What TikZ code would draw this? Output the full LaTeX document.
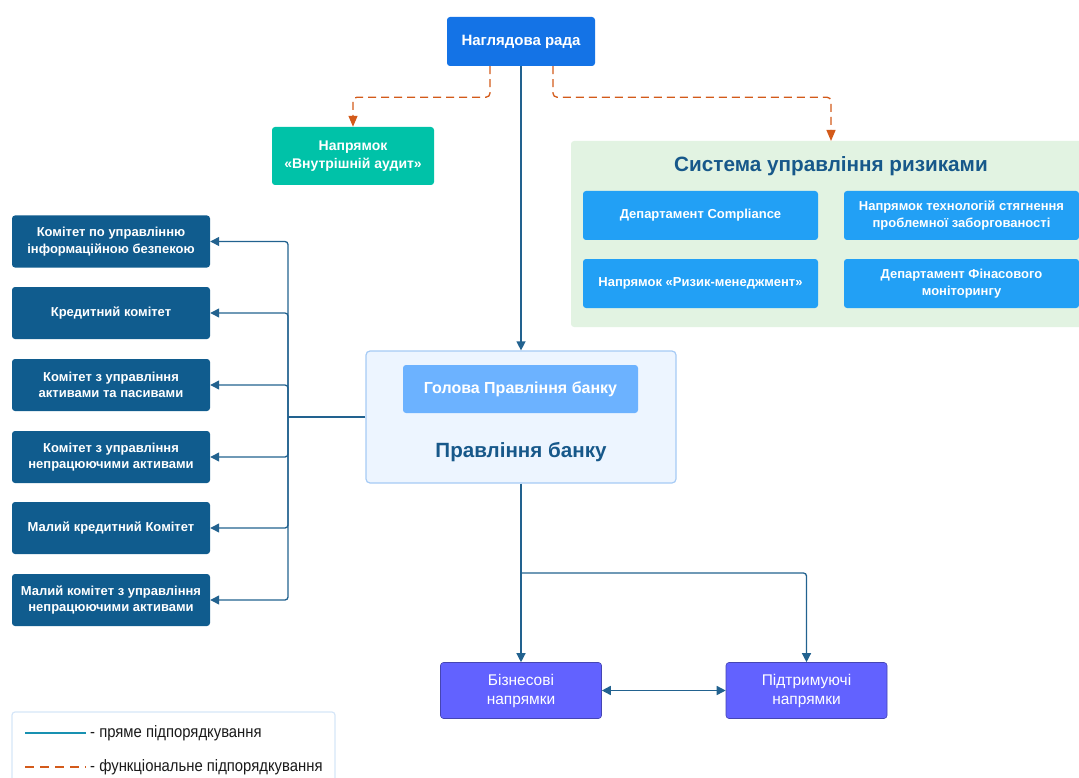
\documentclass[tikz,border=0pt]{standalone}
\usepackage{fontspec}
\setmainfont{Liberation Sans}
\usetikzlibrary{arrows.meta}
\definecolor{nagc}{HTML}{1473E6}
\definecolor{auditc}{HTML}{00C2A8}
\definecolor{riskbg}{HTML}{E2F3E2}
\definecolor{riskbox}{HTML}{22A0F5}
\definecolor{titlec}{HTML}{17588A}
\definecolor{pravbg}{HTML}{EDF5FF}
\definecolor{pravbd}{HTML}{A6CBF5}
\definecolor{golc}{HTML}{6CB2FF}
\definecolor{komc}{HTML}{105C8E}
\definecolor{dirc}{HTML}{6262FF}
\definecolor{linec}{HTML}{22628F}
\definecolor{orc}{HTML}{D35A1A}
\definecolor{legbd}{HTML}{D6E6F8}
\begin{document}
\begin{tikzpicture}[x=1pt,y=-1pt,
  box/.style={rectangle,rounded corners=3pt,text=white,font=\bfseries\fontsize{13}{16.5}\selectfont,align=center,inner sep=0pt},
  kom/.style={box,fill=komc,minimum width=198pt,minimum height=52pt},
  rbox/.style={box,fill=riskbox,minimum width=235pt,minimum height=49pt},
  dir/.style={box,fill=dirc,draw=dirc!70!black,line width=0.6pt,minimum width=161pt,minimum height=56pt,font=\fontsize{15.5}{19}\selectfont},
  solidarr/.style={draw=linec,line width=1.3pt,rounded corners=3pt,-{Triangle[width=9pt,length=9pt]}},
  dasharr/.style={draw=orc,line width=1.3pt,dash pattern=on 8pt off 5pt,rounded corners=4pt,-{Triangle[width=9pt,length=11pt]}}
]
\useasboundingbox (0,0) rectangle (1079,778);
% risk system background
\fill[riskbg,rounded corners=3pt] (571,141) rectangle (1095,327);
\node[font=\bfseries\fontsize{20.7}{24}\selectfont,text=titlec] (risktitle) at (831,166) {Система управління ризиками};
\coordinate (riskin) at (831,141);
\node[rbox] (r1) at (700.5,215.5) {Департамент Compliance};
\node[rbox] (r2) at (961.5,215.5) {Напрямок технологій стягнення\\проблемної заборгованості};
\node[rbox] (r3) at (700.5,283.5) {Напрямок «Ризик-менеджмент»};
\node[rbox] (r4) at (961.5,283.5) {Департамент Фінасового\\моніторингу};
% top
\node[box,fill=nagc,minimum width=148pt,minimum height=49pt,font=\bfseries\fontsize{15}{18}\selectfont] (nag) at (521,41.5) {Наглядова рада};
\node[box,fill=auditc,minimum width=162pt,minimum height=58pt,font=\bfseries\fontsize{14}{18}\selectfont] (audit) at (353,156) {Напрямок\\«Внутрішній аудит»};
% pravlinnya
\node[rectangle,rounded corners=4pt,fill=pravbg,draw=pravbd,line width=1.2pt,minimum width=310pt,minimum height=132pt] (prav) at (521,417) {};
\node[box,fill=golc,minimum width=235pt,minimum height=48pt,font=\bfseries\fontsize{16}{19}\selectfont] (gol) at (520.5,389) {Голова Правління банку};
\node[font=\bfseries\fontsize{20.6}{24}\selectfont,text=titlec] (pravt) at (521,452) {Правління банку};
% committees
\node[kom] (k1) at (111,241.5) {Комітет по управлінню\\інформаційною безпекою};
\node[kom] (k2) at (111,313) {Кредитний комітет};
\node[kom] (k3) at (111,385) {Комітет з управління\\активами та пасивами};
\node[kom] (k4) at (111,457) {Комітет з управління\\непрацюючими активами};
\node[kom] (k5) at (111,528) {Малий кредитний Комітет};
\node[kom] (k6) at (111,600) {Малий комітет з управління\\непрацюючими активами};
% directions
\node[dir] (biz) at (521,690.5) {Бізнесові\\напрямки};
\node[dir] (pid) at (806.5,690.5) {Підтримуючі\\напрямки};
% connectors
\draw[solidarr] (nag.south) -- (prav.north);
\draw[dasharr] ([xshift=-31pt]nag.south) -- ++(0,31) -| (audit.north);
\draw[dasharr] ([xshift=32pt]nag.south) -- ++(0,31) -| (riskin);
\coordinate (bus) at (288,417);
\draw[draw=linec,line width=1.3pt] (prav.west) -- (bus);
\foreach \k in {k1,k2,k3,k4,k5,k6}{
  \draw[solidarr] (bus) |- (\k.east);
}
\coordinate (bus2) at (521,573);
\draw[solidarr] (prav.south) -- (biz.north);
\draw[solidarr] (bus2) -| (pid.north);
\draw[draw=linec,line width=1.6pt,{Triangle[width=9pt,length=9pt]}-{Triangle[width=9pt,length=9pt]}] (biz.east) -- (pid.west);
% legend
\draw[legbd,line width=1.2pt,rounded corners=3pt] (12,712) rectangle (335,790);
\coordinate (l1a) at (25,733);
\coordinate (l1b) at (86,733);
\coordinate (l2a) at (25,767);
\coordinate (l2b) at (86,767);
\draw[draw=linec!70!cyan,line width=1.3pt] (l1a) -- (l1b);
\draw[draw=orc,line width=1.3pt,dash pattern=on 9pt off 6pt] (l2a) -- (l2b);
\node[anchor=west,inner sep=0pt,font=\fontsize{16.5}{19}\selectfont,text=black!90] (leg1) at (90,733) {\addfontfeatures{FakeStretch=0.9}- пряме підпорядкування};
\node[anchor=west,inner sep=0pt,font=\fontsize{16.5}{19}\selectfont,text=black!90] (leg2) at (90,767) {\addfontfeatures{FakeStretch=0.9}- функціональне підпорядкування};
\end{tikzpicture}
\end{document}
